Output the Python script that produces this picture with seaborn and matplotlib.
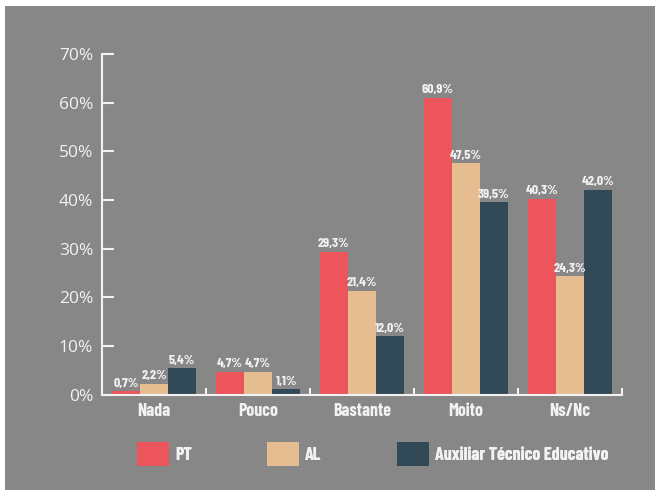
import numpy as np
import pandas as pd
import matplotlib
matplotlib.use("Agg")
import matplotlib.pyplot as plt
from matplotlib.patches import Rectangle, Patch
import seaborn as sns

categories = ["Nada", "Pouco", "Bastante", "Moito", "Ns/Nc"]
series = ["PT", "AL", "Auxiliar Técnico Educativo"]
pt_values = [0.7, 4.7, 29.3, 60.9, 40.3]
al_values = [2.2, 4.7, 21.4, 47.5, 24.3]
ate_values = [5.4, 1.1, 12.0, 39.5, 42.0]
y_ticks = [0, 10, 20, 30, 40, 50, 60, 70]

colors = ["#EC555B", "#E5BD91", "#324A58"]
bg = "#878787"
fg = "#F2F2F2"

df = pd.DataFrame({
    "categoria": categories * 3,
    "serie": [s for s in series for _ in categories],
    "valor": pt_values + al_values + ate_values,
})

fig = plt.figure(figsize=(6.6, 4.93), dpi=100)
fig.patch.set_facecolor("white")
fig.patches.append(Rectangle((5 / 660, 3 / 493), 650 / 660, 484 / 493,
                             transform=fig.transFigure, facecolor=bg,
                             edgecolor="none", zorder=-10))
ax = fig.add_axes([0.155, 0.1994, 0.787, 0.6911])
ax.set_facecolor("none")
ax.set_zorder(5)

sns.barplot(data=df, x="categoria", y="valor", hue="serie", order=categories,
            hue_order=series, palette=colors, width=0.81, saturation=1,
            linewidth=0, ax=ax, legend=False)

# value labels
cond = dict(family="Barlow Condensed", weight=700)
for cont, vals in zip(ax.containers, [pt_values, al_values, ate_values]):
    labels = [f"{v:.1f}%".replace(".", ",") for v in vals]
    ax.bar_label(cont, labels=labels, padding=2, color=fg, fontsize=10, **cond)

ax.set_xlim(-0.5, 4.5)
ax.set_ylim(0, 70)
ax.set_yticks(y_ticks)
ax.set_yticklabels([f"{t}%" for t in y_ticks], color=fg, fontsize=12.5,
                   family="Open Sans")
ax.tick_params(axis="y", direction="in", length=8.5, width=1.5, color=fg, pad=6.5)

ax.set_xticks(range(len(categories)))
ax.set_xticklabels(categories, color=fg, fontsize=13, **cond)
ax.tick_params(axis="x", which="major", length=0, pad=6)
ax.set_xticks(np.arange(0.5, 5, 1), minor=True)
ax.tick_params(axis="x", which="minor", direction="in", length=5, width=1.5,
               color=fg)

for side in ["top", "right"]:
    ax.spines[side].set_visible(False)
for side in ["left", "bottom"]:
    ax.spines[side].set_color(fg)
    ax.spines[side].set_linewidth(1.5)
ax.set_xlabel("")
ax.set_ylabel("")

# legend entries spaced evenly, one legend per series
for i, (name, c) in enumerate(zip(series, colors)):
    leg = fig.legend([Patch(facecolor=c, edgecolor="none")], [name],
                     loc="center left",
                     bbox_to_anchor=((137 + 130 * i) / 660, 0.0791),
                     frameon=False, handlelength=1.75, handleheight=1.7,
                     handletextpad=0.37, borderaxespad=0, borderpad=0,
                     prop=dict(size=13, **cond))
    leg.get_texts()[0].set_color(fg)
    fig.add_artist(leg)

fig.savefig("out.png", dpi=100)
